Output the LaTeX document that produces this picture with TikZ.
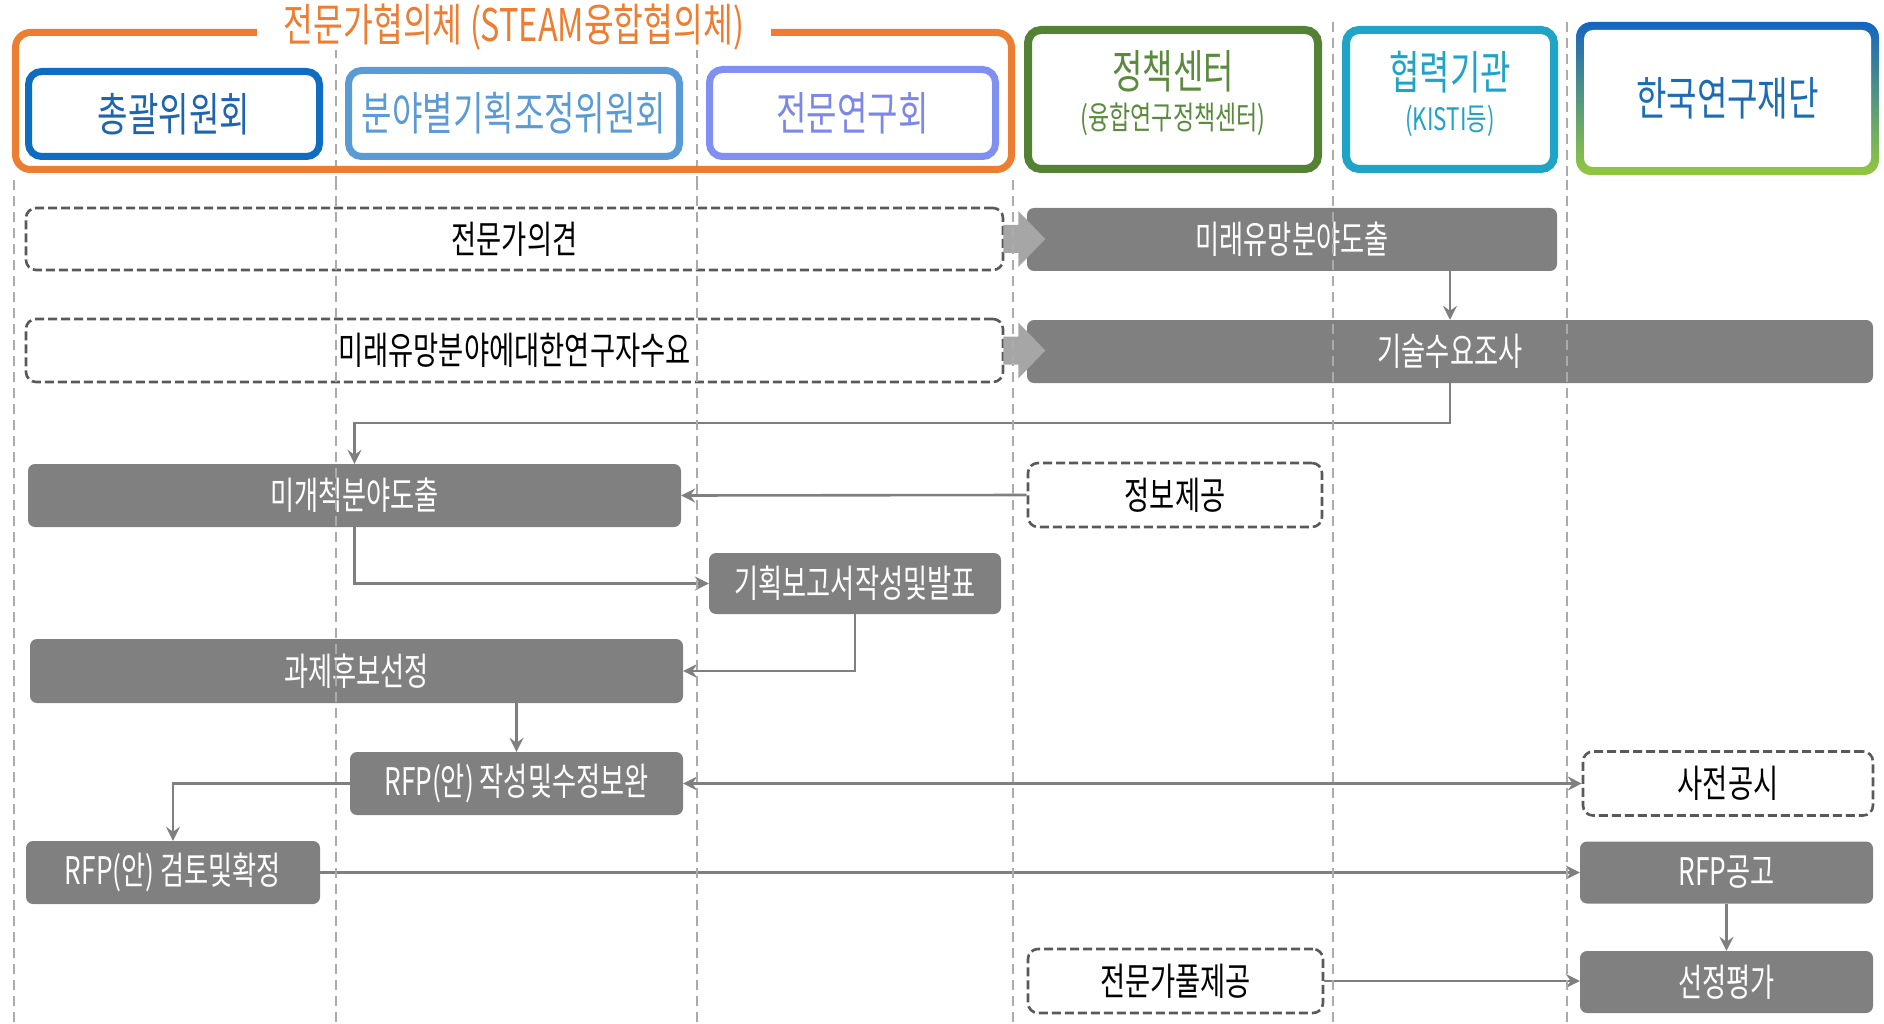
\documentclass[tikz,border=0pt]{standalone}
\usepackage{fontspec}
\newfontfamily\kr[FakeStretch=0.72]{Noto Sans CJK KR}
\newfontfamily\krn[FakeStretch=0.69]{Noto Sans CJK KR}
\usetikzlibrary{arrows.meta,calc}
\definecolor{corange}{HTML}{ED7D31}
\definecolor{cblue1}{HTML}{0E6DC2}
\definecolor{cblue1t}{HTML}{1F64AE}
\definecolor{cblue2}{HTML}{5B9BD5}
\definecolor{cblue3}{HTML}{7F8FF2}
\definecolor{cblue3t}{HTML}{7C88E6}
\definecolor{cgreen}{HTML}{548235}
\definecolor{cgreent}{HTML}{5A8A3C}
\definecolor{cteal}{HTML}{1FA3C6}
\definecolor{nrftop}{HTML}{1565C0}
\definecolor{nrfbot}{HTML}{92C83E}
\definecolor{nrftext}{HTML}{1C6CB4}
\definecolor{boxgray}{HTML}{808080}
\definecolor{dashgray}{HTML}{595959}
\definecolor{lanegray}{HTML}{ABABAB}
\definecolor{arrgray}{HTML}{7F7F7F}
\definecolor{chevgray}{HTML}{A6A6A6}
\newcommand\kfs[1]{\fontsize{#1}{#1}\selectfont}
\tikzset{
  lane/.style={draw=lanegray, line width=1.6pt, dash pattern=on 10pt off 6pt},
  bsize/.style n args={2}{minimum width=#1pt, minimum height=#2pt},
  hdr/.style={draw=#1, line width=7pt, rounded corners=13pt, fill=white, inner sep=0pt, font=\kr\kfs{46}},
  hdrtext/.style={inner sep=0pt, align=center, font=\kr\kfs{32}},
  darkbox/.style={fill=boxgray, rounded corners=7pt, text=white, inner sep=0pt, font=\krn\kfs{38}},
  dashbox/.style={draw=dashgray, line width=2.6pt, dash pattern=on 9pt off 4pt, rounded corners=10pt, fill=white, text=black, inner sep=0pt, font=\kr\kfs{38}},
  arr/.style={draw=arrgray, line width=2.6pt, -{Stealth[length=14pt,width=14pt,inset=5pt]}},
  arrtwo/.style={draw=arrgray, line width=2.6pt, {Stealth[length=14pt,width=14pt,inset=5pt]}-{Stealth[length=14pt,width=14pt,inset=5pt]}},
  chev/.style={fill=chevgray, draw=none},
}
\begin{document}
\begin{tikzpicture}[x=1pt,y=-1pt]
\useasboundingbox (0,0) rectangle (1884,1024);
% upper lane segments (behind header)
\foreach \lx/\ly in {336/48, 697/48, 1333/22, 1567/22}
  \draw[lane] (\lx,\ly) -- (\lx,180);
% council frame
\node[draw=corange, line width=7pt, rounded corners=15pt, inner sep=0pt, bsize={996}{137}] (council) at (513.5,101) {};
\node[fill=white, inner sep=0pt, bsize={514}{46}, text=corange, font=\kr\kfs{45}] (title) at (514,27) {전문가협의체 (STEAM융합협의체)};
\node[hdr=cblue1, text=cblue1t, bsize={291}{85}] (gen) at (174,114) {총괄위원회};
\node[hdr=cblue2, text=cblue2, bsize={331}{86}] (field) at (514,113.5) {분야별기획조정위원회};
\node[hdr=cblue3, text=cblue3t, bsize={286}{87}] (expert) at (852.5,113) {전문연구회};
\node[hdr=cgreen, line width=8pt, bsize={290}{139}] (policy) at (1173,99.5) {};
\node[hdrtext, text=cgreent] (policytxt) at (1173,93.5)
  {{\kfs{46}정책센터}\\[9pt]{\kfs{32}(융합연구정책센터)}};
\node[hdr=cteal, line width=8pt, bsize={208}{139}] (coop) at (1450,99.5) {};
\node[hdrtext, text=cteal] (cooptxt) at (1450,93.5)
  {{\kfs{46}협력기관}\\[9pt]{\kfs{31}(KISTI등)}};
\shade[top color=nrftop, bottom color=nrfbot, rounded corners=15pt] (1576,22) rectangle (1879,175);
\fill[white, rounded corners=9pt] (1584,30) rectangle (1871,167);
\node[inner sep=0pt, bsize={303}{153}, text=nrftext, font=\kr\kfs{46}] (nrf) at (1727.5,98.5) {한국연구재단};
% body boxes
\node[dashbox, bsize={977}{62}] (op1) at (514.5,239) {전문가의견};
\node[dashbox, bsize={977}{63}] (op2) at (514.5,350.5) {미래유망분야에대한연구자수요};
\node[darkbox, bsize={530}{63}] (fut) at (1292,239.5) {미래유망분야도출};
\node[darkbox, bsize={846}{63}] (tech) at (1450,351.5) {기술수요조사};
\node[darkbox, bsize={653}{63}] (unex) at (354.5,495.5) {미개척분야도출};
\node[dashbox, bsize={294}{64}] (info) at (1175,495) {정보제공};
\node[darkbox, bsize={292}{61}] (plan) at (855,583.5) {기획보고서작성및발표};
\node[darkbox, bsize={653}{64}] (cand) at (356.5,671) {과제후보선정};
\node[darkbox, bsize={333}{63}] (rfpw) at (516.5,783.5) {RFP(안) 작성및수정보완};
\node[darkbox, bsize={294}{63}] (rfpr) at (173,872.5) {RFP(안) 검토및확정};
\node[dashbox, bsize={290}{64}] (pre) at (1728,783.5) {사전공시};
\node[darkbox, bsize={293}{62}] (ann) at (1726.5,872.5) {RFP공고};
\node[darkbox, bsize={293}{62}] (eval) at (1726.5,982) {선정평가};
\node[dashbox, bsize={295}{64}] (pool) at (1175.5,981) {전문가풀제공};
% chevrons
\foreach \src in {op1,op2}
  \fill[chev] (\src.east) ++(-1,-14) -- ++(15,0) -- ++(0,-14) -- ++(27,28) -- ++(-27,28) -- ++(0,-14) -- ++(-15,0) -- cycle;
% connectors
\draw[arr] (fut.south -| tech.north) -- (tech.north);
\draw[arr] (tech.south) -- (tech.south |- 0,423) -- (unex.north |- 0,423) -- (unex.north);
\draw[arr] (info.west) -- (unex.east);
\draw[arr] (unex.south) |- (plan.west);
\draw[arr] (plan.south) |- (cand.east);
\draw[arr] (cand.south -| rfpw.north) -- (rfpw.north);
\draw[arrtwo] (rfpw.east) -- (pre.west);
\draw[arr] (rfpw.west) -| (rfpr.north);
\draw[arr] (rfpr.east) -- (rfpr.east -| ann.west);
\draw[arr] (ann.south) -- (eval.north);
\draw[arr] (pool.east) -- (pool.east -| eval.west);
% lanes on top in body
\foreach \lx in {14,336,697,1013,1333,1567}
  \draw[lane] (\lx,180) -- (\lx,1024);
\end{tikzpicture}
\end{document}
